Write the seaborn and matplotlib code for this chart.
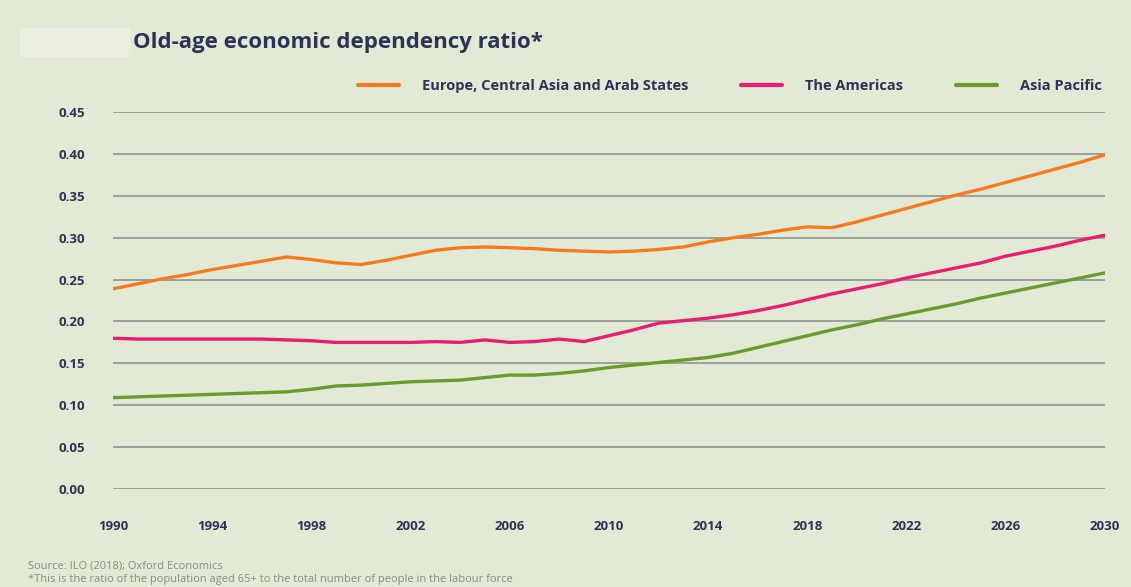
import numpy as np
import pandas as pd
import matplotlib
matplotlib.use("Agg")
import matplotlib.pyplot as plt
import seaborn as sns

years = list(range(1990, 2031))

europe = [0.239, 0.245, 0.251, 0.256, 0.262, 0.267, 0.272, 0.277, 0.274, 0.270,
          0.268, 0.273, 0.279, 0.285, 0.288, 0.289, 0.288, 0.287, 0.285, 0.284,
          0.283, 0.284, 0.286, 0.289, 0.295, 0.300, 0.304, 0.309, 0.313, 0.312,
          0.319, 0.327, 0.335, 0.343, 0.351, 0.358, 0.366, 0.374, 0.382, 0.390,
          0.399]
americas = [0.180, 0.179, 0.179, 0.179, 0.179, 0.179, 0.179, 0.178, 0.177, 0.175,
            0.175, 0.175, 0.175, 0.176, 0.175, 0.178, 0.175, 0.176, 0.179, 0.176,
            0.183, 0.190, 0.198, 0.201, 0.204, 0.208, 0.213, 0.219, 0.226, 0.233,
            0.239, 0.245, 0.252, 0.258, 0.264, 0.270, 0.278, 0.284, 0.290, 0.297,
            0.303]
asia = [0.109, 0.110, 0.111, 0.112, 0.113, 0.114, 0.115, 0.116, 0.119, 0.123,
        0.124, 0.126, 0.128, 0.129, 0.130, 0.133, 0.136, 0.136, 0.138, 0.141,
        0.145, 0.148, 0.151, 0.154, 0.157, 0.162, 0.169, 0.176, 0.183, 0.190,
        0.196, 0.203, 0.209, 0.215, 0.221, 0.228, 0.234, 0.240, 0.246, 0.252,
        0.258]

regions = ["Europe, Central Asia and Arab States", "The Americas", "Asia Pacific"]
colors = ["#f47b20", "#e91e73", "#6a9b2b"]
y_ticks = [0.00, 0.05, 0.10, 0.15, 0.20, 0.25, 0.30, 0.35, 0.40, 0.45]
x_ticks = list(range(1990, 2031, 4))

df = pd.DataFrame({
    "year": years * 3,
    "ratio": europe + americas + asia,
    "region": [regions[0]] * len(years) + [regions[1]] * len(years) + [regions[2]] * len(years),
})

bg = "#e2ead6"
navy = "#2b3356"

sns.set_style("white")
plt.rcParams["font.family"] = ["Open Sans", "DejaVu Sans"]

fig = plt.figure(figsize=(11.31, 5.87), dpi=100, facecolor=bg)
ax = fig.add_axes([0.0999, 0.167, 0.877, 0.642])
ax.set_facecolor(bg)

sns.lineplot(data=df, x="year", y="ratio", hue="region", hue_order=regions,
             palette=colors, linewidth=2.4, ax=ax)

ax.set_xlim(1990, 2030)
ax.set_ylim(0, 0.45)
ax.set_yticks(y_ticks)
ax.set_yticklabels([f"{v:.2f}" for v in y_ticks])
ax.set_xticks(x_ticks)
ax.set_xticklabels([str(x) for x in x_ticks])
ax.tick_params(axis="both", length=0, labelsize=9.5, labelcolor=navy)
ax.tick_params(axis="y", pad=20)
ax.tick_params(axis="x", pad=22)
for lab in ax.get_xticklabels() + ax.get_yticklabels():
    lab.set_fontweight("bold")
ax.grid(axis="y", color="#8d9591", linewidth=1.2)
ax.set_axisbelow(True)
for s in ax.spines.values():
    s.set_visible(False)
ax.set_xlabel("")
ax.set_ylabel("")

# legend along the top
handles, labels = ax.get_legend_handles_labels()
ax.legend().remove()
leg = fig.legend(handles, labels, loc="center right", bbox_to_anchor=(0.986, 0.853),
                 ncol=3, frameon=False, handlelength=2.8, handletextpad=1.6,
                 columnspacing=3.6, prop={"weight": "bold", "size": 10.5})
for t in leg.get_texts():
    t.set_color(navy)
for h in leg.get_lines():
    h.set_linewidth(3)

# pale box left of title
fig.patches.append(plt.Rectangle((0.018, 0.903), 0.097, 0.05, transform=fig.transFigure,
                                 facecolor="#eaefe2", edgecolor="none"))
fig.text(0.118, 0.928, "Old-age economic dependency ratio*", fontsize=16,
         fontweight="bold", color=navy, va="center", ha="left")

fig.text(0.025, 0.036, "Source: ILO (2018); Oxford Economics", fontsize=8,
         color="#858c86", va="center")
fig.text(0.025, 0.013, "*This is the ratio of the population aged 65+ to the total number of people in the labour force",
         fontsize=8, color="#858c86", va="center")

fig.savefig("out.png", dpi=100, facecolor=bg)
